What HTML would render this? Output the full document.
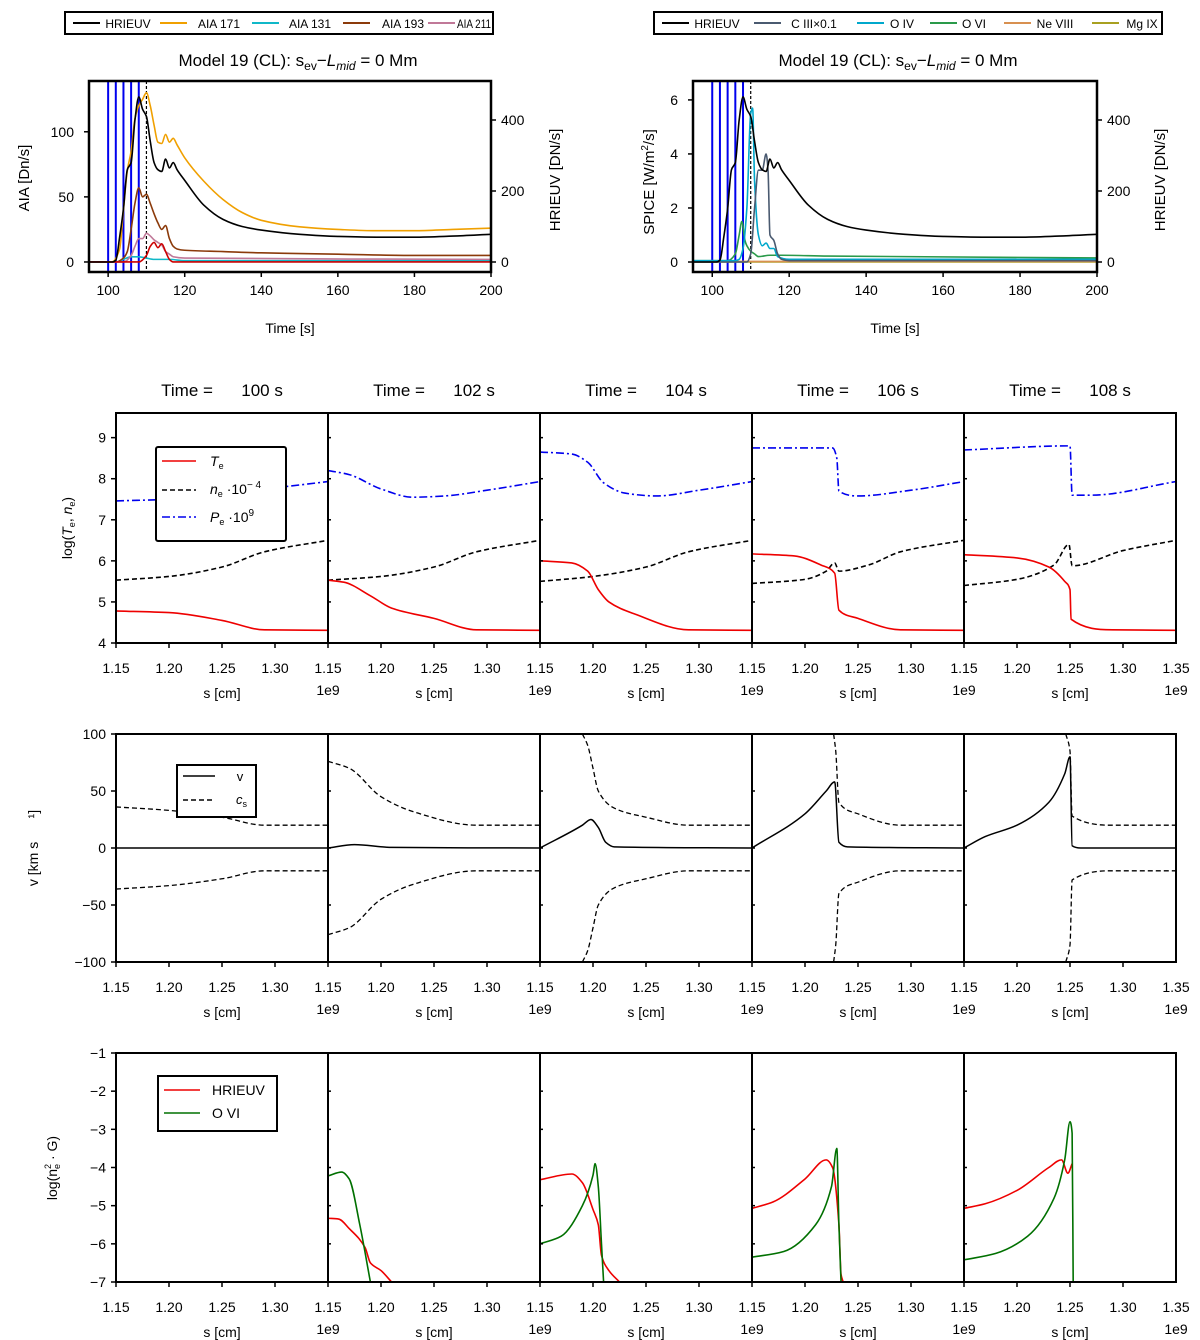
<!DOCTYPE html>
<html><head><meta charset="utf-8">
<style>
html,body{margin:0;padding:0;background:#fff;}
svg{display:block;font-family:"Liberation Sans","DejaVu Sans",sans-serif;}
</style></head>
<body>
<svg id="fig" width="1200" height="1340" viewBox="0 0 1200 1340" xmlns="http://www.w3.org/2000/svg"></svg>
<script>
// ---------- Top-left light curves (time in s) ----------
const hriT = [95,101,102,103,104,105,106,107,108,109,110,111,112,113,114,115,116,117,118,120,125,130,135,140,150,160,170,180,190,200];
const hriV = [0,0,5,70,150,260,280,400,465,430,410,340,280,260,255,290,265,280,260,230,160,120,100,90,78,72,70,70,73,78];
const a171T = [95,101,103,104,105,106,107,108,109,110,111,112,113,114,115,116,117,118,120,125,130,135,140,150,160,170,180,190,200];
const a171V = [0,0,10,40,70,85,110,120,125,130,120,105,92,91,98,92,95,90,80,62,48,38,32,27,25,24,24,25,26];
const a131T = [95,102,104,106,108,110,112,114,116,120,200];
const a131V = [0,0,2,4,4,3,2,2,2,1,1];
const a193T = [95,102,104,105,106,107,108,109,110,111,112,113,114,115,116,117,118,120,130,140,160,180,200];
const a193V = [0,0,3,8,25,45,57,50,52,45,37,30,25,28,18,12,10,9,8,7,6,5,5];
const a211T = [95,104,106,107,108,109,110,111,112,113,114,115,116,117,120,200];
const a211V = [0,0,5,12,18,18,22,20,17,15,13,8,6,4,3,2];
const a94T = [95,108,110,111,112,113,114,115,116,117,200];
const a94V = [0,0,5,12,15,11,14,8,2,0,0];
// ---------- Top-right SPICE curves ----------
const c3T = [95,109,110,111,112,113,114,114.5,115,116,117,118,120,200];
const c3V = [0,0,0.3,2,3.4,3.4,4.0,3.4,1,0.8,0.3,0.1,0.05,0.05];
const o4T = [95,106,107,108,109,110,110.5,111,112,113,114,115,116,117,120,200];
const o4V = [0.05,0.05,0.1,0.5,2,5.5,5.7,3,1,0.6,0.7,0.5,0.5,0.2,0.1,0.1];
const o6T = [95,104,106,107,107.7,108.5,109,110,111,112,115,118,130,200];
const o6V = [0.05,0.05,0.3,1,1.5,0.8,0.6,0.4,0.3,0.2,0.25,0.25,0.22,0.15];
const ne8T = [95,200]; const ne8V = [0.02,0.02];
const mg9T = [95,200]; const mg9V = [0,0];
const snapTimes = [100,102,104,106,108];
const markTime = 110;
const xTicksTop = [100,120,140,160,180,200];
const aiaTicks = [0,50,100];
const spiceTicks = [0,2,4,6];
const hriTicks = [0,200,400];
// ---------- Row 1: log Te, ne, Pe ----------
const panelTimes = [100,102,104,106,108];
const teS = [[1.15,1.20,1.25,1.29,1.35],[1.15,1.165,1.19,1.21,1.25,1.29,1.35],[1.15,1.18,1.195,1.205,1.215,1.24,1.29,1.35],[1.15,1.19,1.215,1.228,1.232,1.25,1.29,1.35],[1.15,1.2,1.23,1.245,1.25,1.251,1.29,1.35]];
const teV = [[4.78,4.74,4.55,4.32,4.31],[5.53,5.48,5.15,4.85,4.6,4.32,4.31],[6.0,5.95,5.75,5.3,5.0,4.7,4.32,4.31],[6.17,6.12,5.9,5.7,4.8,4.6,4.32,4.31],[6.15,6.07,5.85,5.5,5.3,4.58,4.32,4.31]];
const neS = [[1.15,1.2,1.25,1.29,1.35],[1.15,1.2,1.25,1.29,1.35],[1.15,1.2,1.25,1.29,1.35],[1.15,1.2,1.22,1.228,1.232,1.26,1.29,1.35],[1.15,1.2,1.235,1.249,1.252,1.3,1.35]];
const neV = [[5.53,5.62,5.85,6.22,6.5],[5.53,5.62,5.85,6.22,6.5],[5.5,5.62,5.85,6.22,6.5],[5.45,5.55,5.75,5.95,5.75,5.9,6.22,6.5],[5.4,5.55,5.9,6.4,5.88,6.25,6.5]];
const peS = [[1.15,1.2,1.25,1.3,1.35],[1.15,1.17,1.2,1.23,1.26,1.3,1.35],[1.15,1.18,1.195,1.21,1.23,1.26,1.3,1.35],[1.15,1.226,1.23,1.232,1.25,1.3,1.35],[1.15,1.25,1.252,1.27,1.35]];
const peV = [[7.46,7.5,7.65,7.78,7.93],[8.2,8.1,7.75,7.55,7.58,7.72,7.93],[8.65,8.6,8.4,7.9,7.65,7.58,7.72,7.93],[8.75,8.75,8.5,7.7,7.58,7.72,7.93],[8.7,8.8,7.6,7.6,7.93]];
// ---------- Row 2: v and cs ----------
const vS = [[1.15,1.35],[1.15,1.175,1.21,1.35],[1.15,1.19,1.198,1.205,1.212,1.22,1.35],[1.15,1.2,1.22,1.228,1.232,1.24,1.35],[1.15,1.17,1.2,1.23,1.245,1.25,1.252,1.26,1.35]];
const vV = [[0,0],[0,3,0.5,0],[0,20,25,18,5,1,0],[0,30,50,58,5,1,0],[0,10,20,40,65,80,2,0,0]];
const csS = [[1.15,1.2,1.25,1.29,1.35],[1.15,1.17,1.2,1.23,1.29,1.35],[1.19,1.195,1.2,1.205,1.22,1.25,1.29,1.35],[1.227,1.229,1.232,1.25,1.29,1.35],[1.246,1.25,1.252,1.29,1.35]];
const csV = [[36,33,27,20,20],[76,70,45,32,20,20],[100,90,70,50,35,27,20,20],[100,85,40,30,20,20],[100,85,28,20,20]];
// ---------- Row 3: log(ne^2 G) ----------
const hS = [[],[1.15,1.16,1.17,1.185,1.19,1.2,1.21],[1.15,1.18,1.19,1.2,1.205,1.208,1.215,1.225],[1.15,1.17,1.2,1.22,1.226,1.232,1.234,1.236],[1.15,1.17,1.2,1.23,1.242,1.248,1.252]];
const hV = [[],[-5.33,-5.35,-5.6,-6.1,-6.5,-6.7,-7.0],[-4.32,-4.17,-4.4,-5.1,-5.5,-6.3,-6.7,-7],[-5.07,-4.9,-4.3,-3.8,-4.0,-5.5,-6.8,-7],[-5.07,-4.95,-4.6,-4.0,-3.8,-4.15,-3.9]];
const oS = [[],[1.15,1.163,1.17,1.18,1.19],[1.15,1.17,1.19,1.2,1.202,1.205,1.208,1.21],[1.15,1.18,1.21,1.225,1.23,1.232,1.234],[1.15,1.18,1.21,1.235,1.245,1.25,1.252,1.253]];
const oV = [[],[-4.22,-4.12,-4.3,-5.5,-7.0],[-6.0,-5.8,-5.0,-4.2,-3.9,-4.5,-6.0,-7],[-6.35,-6.2,-5.5,-4.5,-3.5,-5.5,-7],[-6.42,-6.25,-5.8,-4.8,-3.8,-2.8,-3.1,-7]];
const sTicks = [1.15,1.20,1.25,1.30];
const r1Ticks = [4,5,6,7,8,9];
const r2Ticks = [-100,-50,0,50,100];
const r3Ticks = [-7,-6,-5,-4,-3,-2,-1];

const NS = "http://www.w3.org/2000/svg";
const svg = document.getElementById('fig');
function el(tag, attrs, parent, text){
  const e = document.createElementNS(NS, tag);
  for (const k in attrs) e.setAttribute(k, attrs[k]);
  if (text !== undefined) e.textContent = text;
  (parent || svg).appendChild(e);
  return e;
}
function txt(x,y,s,size,anchor,parent,rot){
  const a = {x:x,y:y,'font-size':size,'text-anchor':anchor||'middle',fill:'#000'};
  if (rot) a.transform = 'rotate('+rot+' '+x+' '+y+')';
  return el('text',a,parent,s);
}
// monotone cubic path (Fritsch-Carlson)
function monoPath(X,Y){
  const n=X.length; if(n<2) return '';
  const d=[],m=[];
  for(let i=0;i<n-1;i++){ const dx=X[i+1]-X[i]; d.push(dx===0?0:(Y[i+1]-Y[i])/dx); }
  m[0]=d[0]; m[n-1]=d[n-2];
  for(let i=1;i<n-1;i++){ if(d[i-1]*d[i]<=0){m[i]=0;} else { const w1=2*(X[i+1]-X[i])+(X[i]-X[i-1]), w2=(X[i+1]-X[i])+2*(X[i]-X[i-1]); m[i]=(w1+w2)/(w1/d[i-1]+w2/d[i]); } }
  let p='M'+X[0].toFixed(2)+','+Y[0].toFixed(2);
  for(let i=0;i<n-1;i++){
    const h=X[i+1]-X[i];
    if(h<=0.01){ p+='L'+X[i+1].toFixed(2)+','+Y[i+1].toFixed(2); continue; }
    const c1x=X[i]+h/3, c1y=Y[i]+m[i]*h/3, c2x=X[i+1]-h/3, c2y=Y[i+1]-m[i+1]*h/3;
    p+='C'+c1x.toFixed(2)+','+c1y.toFixed(2)+' '+c2x.toFixed(2)+','+c2y.toFixed(2)+' '+X[i+1].toFixed(2)+','+Y[i+1].toFixed(2);
  }
  return p;
}
function line(xs, ys, sx, sy, color, w, dash, parent, name){
  const X=xs.map(sx), Y=ys.map(sy);
  const a={d:monoPath(X,Y),fill:'none',stroke:color,'stroke-width':w,'stroke-linejoin':'round'};
  if (dash) a['stroke-dasharray']=dash;
  const p = el('path',a,parent);
  
  
  return p;
}

// ===== Top plots =====
function topPlot(L, R, T, B, yMin, yMax, leftTicks, series, name){
  const g = el('g',{});
  
  
  const sx = t => L + (t-95)/(200-95)*(R-L);
  const sy = v => B - (v-yMin)/(yMax-yMin)*(B-T);
  const hy = v => 262 - v*(142/400);
  const cp = 'clip-'+name;
  const defs = el('defs',{},g); const c = el('clipPath',{id:cp},defs); el('rect',{x:L,y:T,width:R-L,height:B-T},c);
  const inner = el('g',{'clip-path':'url(#'+cp+')'},g);
  snapTimes.forEach(t=>{ const l=el('line',{x1:sx(t),x2:sx(t),y1:T,y2:B,stroke:'#0000ee','stroke-width':2},inner);
      });
  const m = el('line',{x1:sx(markTime),x2:sx(markTime),y1:T,y2:B,stroke:'#000','stroke-width':1.2,'stroke-dasharray':'3,2'},inner);
   
  series.forEach(s=>{ line(s.t, s.v, sx, s.hri?hy:sy, s.c, 1.6, null, inner, s.n); });
  el('rect',{x:L,y:T,width:R-L,height:B-T,fill:'none',stroke:'#000','stroke-width':2.5},g);
  xTicksTop.forEach(t=>{ el('line',{x1:sx(t),x2:sx(t),y1:B,y2:B+5,stroke:'#000','stroke-width':1.5},g); txt(sx(t),B+23,String(t),14,'middle',g); });
  leftTicks.forEach(v=>{ el('line',{x1:L-5,x2:L,y1:sy(v),y2:sy(v),stroke:'#000','stroke-width':1.5},g); txt(L-15,sy(v)+5,String(v),14,'end',g); });
  hriTicks.forEach(v=>{ el('line',{x1:R,x2:R+5,y1:hy(v),y2:hy(v),stroke:'#000','stroke-width':1.5},g); txt(R+10,hy(v)+5,String(v),14,'start',g); });
  txt((L+R)/2, 333, 'Time [s]', 14, 'middle', g);
  return g;
}
topPlot(89,491,81,272,-7.7,139,aiaTicks,[
  {t:a171T,v:a171V,c:'#f0a000',n:'aia171-line'},
  {t:a131T,v:a131V,c:'#10b8c8',n:'aia131-line'},
  {t:a193T,v:a193V,c:'#8b3a0a',n:'aia193-line'},
  {t:a211T,v:a211V,c:'#c07898',n:'aia211-line'},
  {t:a94T,v:a94V,c:'#cc0000',n:'aia94-line'},
  {t:hriT,v:hriV,c:'#000',n:'hrieuv-line',hri:true}
],'aia-plot');
topPlot(693,1097,81,272,-0.37,6.7,spiceTicks,[
  {t:mg9T,v:mg9V,c:'#a8a020',n:'mg9-line'},
  {t:ne8T,v:ne8V,c:'#d89050',n:'ne8-line'},
  {t:o6T,v:o6V,c:'#2a9a4a',n:'o6-line'},
  {t:o4T,v:o4V,c:'#00a8cc',n:'o4-line'},
  {t:c3T,v:c3V,c:'#4a5a70',n:'c3-line'},
  {t:hriT,v:hriV,c:'#000',n:'hrieuv-line',hri:true}
],'spice-plot');
txt(29,178,'AIA [Dn/s]',15,'middle',null,-90);
txt(560,180,'HRIEUV [DN/s]',15,'middle',null,-90);
(function(){
  const t=el('text',{x:654,y:182,'font-size':15,'text-anchor':'middle',transform:'rotate(-90 654 182)'});
   
  el('tspan',{},t,'SPICE [W/m'); el('tspan',{'font-size':10,dy:-6},t,'2'); el('tspan',{dy:6},t,'/s]');
})();
txt(1165,180,'HRIEUV [DN/s]',15,'middle',null,-90);
// titles
[298,898].forEach(cx=>{
  const t = el('text',{x:cx,y:66,'font-size':17,'text-anchor':'middle'});
   
  el('tspan',{},t,'Model 19 (CL): s');
  el('tspan',{'font-size':12,dy:4},t,'ev');
  el('tspan',{dy:-4},t,'\u2212');
  el('tspan',{'font-style':'italic'},t,'L');
  el('tspan',{'font-size':12,dy:4,'font-style':'italic'},t,'mid');
  el('tspan',{dy:-4},t,' = 0 Mm');
});
// top legends
function topLegend(x,y,w,items,name){
  const g = el('g',{});  
  el('rect',{x:x,y:y,width:w,height:22,fill:'#fff',stroke:'#000','stroke-width':2},g);
  items.forEach(it=>{
    const e = el('g',{},g);  
    el('line',{x1:it.x,x2:it.x+27,y1:y+11,y2:y+11,stroke:it.c,'stroke-width':2},e);
    const t = txt(it.tx,y+16,it.s,12,'middle',e);
    if (it.tl) { t.setAttribute('textLength', it.tl); t.setAttribute('lengthAdjust','spacingAndGlyphs'); }
  });
}
topLegend(65,12,428,[{x:73,c:'#000',s:'HRIEUV',tx:128},{x:160,c:'#f0a000',s:'AIA 171',tx:219},{x:252,c:'#10b8c8',s:'AIA 131',tx:310},{x:343,c:'#8b3a0a',s:'AIA 193',tx:403},{x:428,c:'#c07898',s:'AIA 211',tx:474,tl:34}],'aia-legend');
topLegend(654,12,508,[{x:662,c:'#000',s:'HRIEUV',tx:717},{x:754,c:'#4a5a70',s:'C III×0.1',tx:814},{x:857,c:'#00a8cc',s:'O IV',tx:902},{x:930,c:'#2a9a4a',s:'O VI',tx:974},{x:1004,c:'#d89050',s:'Ne VIII',tx:1055},{x:1092,c:'#a8a020',s:'Mg IX',tx:1142}],'spice-legend');

// ===== Snapshot grid =====
const PX = [116,328,540,752,964];
const PW = 212;
function row(T,B,yMin,yMax,yTicks,drawFn,rowName){
  const sy = v => B - (v-yMin)/(yMax-yMin)*(B-T);
  PX.forEach((L,i)=>{
    const g = el('g',{});  
    const sx = s => L + (s-1.15)/0.2*PW;
    const cp='cp-'+rowName+i; const defs=el('defs',{},g); const c=el('clipPath',{id:cp},defs); el('rect',{x:L,y:T,width:PW,height:B-T},c);
    const inner = el('g',{'clip-path':'url(#'+cp+')'},g);
    drawFn(i,sx,sy,inner);
    el('rect',{x:L,y:T,width:PW,height:B-T,fill:'none',stroke:'#000','stroke-width':2},g);
    sTicks.forEach(s=>{ el('line',{x1:sx(s),x2:sx(s),y1:B,y2:B+5,stroke:'#000','stroke-width':1.5},g); txt(sx(s),B+30,s.toFixed(2),14,'middle',g); });
    yTicks.forEach(v=>{ el('line',{x1:L-(i?0:5),x2:L+(i?3:0),y1:sy(v),y2:sy(v),stroke:'#000','stroke-width':1.5},g); });
    txt(L+106,B+55,'s [cm]',14,'middle',g);
    txt(L+PW,B+52,'1e9',14,'middle',g);
  });
  txt(PX[4]+PW,B+30,'1.35',14,'middle');
  yTicks.forEach(v=> txt(106,sy(v)+5,(v<0?'\u2212'+Math.abs(v):String(v)),14,'end'));
}
PX.forEach((L,i)=>{ const t=txt(L+106,396,'Time =      '+panelTimes[i]+' s',17,'middle'); t.style.whiteSpace='pre';
    });

row(413,643,4,9.6,r1Ticks,(i,sx,sy,g)=>{
  line(peS[i],peV[i],sx,sy,'#0000ee',1.6,'8,3,2,3',g,'pe-line');
  line(neS[i],neV[i],sx,sy,'#000',1.6,'5,3',g,'ne-line');
  line(teS[i],teV[i],sx,sy,'#ee0000',1.6,null,g,'te-line');
},'thermo');
row(734,962,-100,100,r2Ticks,(i,sx,sy,g)=>{
  line(csS[i],csV[i],sx,sy,'#000',1.3,'5,3',g,'cs-upper-line');
  line(csS[i],csV[i].map(v=>-v),sx,sy,'#000',1.3,'5,3',g,'cs-lower-line');
  line(vS[i],vV[i],sx,sy,'#000',1.5,null,g,'v-line');
},'velocity');
row(1053,1282,-7,-1,r3Ticks,(i,sx,sy,g)=>{
  if (hS[i].length) line(hS[i],hV[i],sx,sy,'#ee0000',1.6,null,g,'hrieuv-contrib-line');
  if (oS[i].length) line(oS[i],oV[i],sx,sy,'#007000',1.6,null,g,'ovi-contrib-line');
},'contrib');

// y labels
(function(){
  const t=el('text',{x:72,y:528,'font-size':14,'text-anchor':'middle',transform:'rotate(-90 72 528)'});
   
  el('tspan',{},t,'log('); el('tspan',{'font-style':'italic'},t,'T'); el('tspan',{'font-size':9,dy:3},t,'e'); el('tspan',{dy:-3},t,',  '); el('tspan',{'font-style':'italic'},t,'n'); el('tspan',{'font-size':9,dy:3},t,'e'); el('tspan',{dy:-3},t,')');
  const t2=el('text',{x:38,y:848,'font-size':14,'text-anchor':'middle',transform:'rotate(-90 38 848)'},null,'v [km s      ¹]');
    t2.style.whiteSpace='pre';
  const t3=el('text',{x:57,y:1168,'font-size':14,'text-anchor':'middle',transform:'rotate(-90 57 1168)'});
   
  el('tspan',{},t3,'log(n'); el('tspan',{'font-size':9,dy:-6},t3,'2'); el('tspan',{'font-size':9,dx:-5,dy:9},t3,'e'); el('tspan',{dy:-3},t3,'  ·  G)');
})();

// panel legends
(function(){
  let g=el('g',{});  
  el('rect',{x:156,y:447,width:130,height:94,fill:'#fff',stroke:'#000','stroke-width':2,rx:2},g);
  el('line',{x1:162,x2:196,y1:461,y2:461,stroke:'#ee0000','stroke-width':1.6},g);
  el('line',{x1:162,x2:196,y1:490,y2:490,stroke:'#000','stroke-width':1.6,'stroke-dasharray':'5,3'},g);
  el('line',{x1:162,x2:196,y1:517,y2:517,stroke:'#0000ee','stroke-width':1.6,'stroke-dasharray':'8,3,2,3'},g);
  let t=el('text',{x:210,y:466,'font-size':14},g); el('tspan',{'font-style':'italic'},t,'T'); el('tspan',{'font-size':9,dy:3},t,'e');
  t=el('text',{x:210,y:494,'font-size':14},g); el('tspan',{'font-style':'italic'},t,'n'); el('tspan',{'font-size':9,dy:3},t,'e'); el('tspan',{dy:-3},t,' ·10'); el('tspan',{'font-size':10,dy:-6},t,'− 4');
  t=el('text',{x:210,y:522,'font-size':14},g); el('tspan',{'font-style':'italic'},t,'P'); el('tspan',{'font-size':9,dy:3},t,'e'); el('tspan',{dy:-3},t,' ·10'); el('tspan',{'font-size':10,dy:-6},t,'9');
  g=el('g',{});  
  el('rect',{x:177,y:765,width:79,height:52,fill:'#fff',stroke:'#000','stroke-width':2},g);
  el('line',{x1:183,x2:215,y1:776,y2:776,stroke:'#000','stroke-width':1.5},g);
  el('line',{x1:183,x2:215,y1:800,y2:800,stroke:'#000','stroke-width':1.5,'stroke-dasharray':'5,3'},g);
  txt(240,781,'v',13,'middle',g);
  t=el('text',{x:236,y:804,'font-size':13},g); el('tspan',{'font-style':'italic'},t,'c'); el('tspan',{'font-size':9,dy:3},t,'s');
  g=el('g',{});  
  el('rect',{x:158,y:1076,width:119,height:55,fill:'#fff',stroke:'#000','stroke-width':2},g);
  el('line',{x1:164,x2:200,y1:1090,y2:1090,stroke:'#ee0000','stroke-width':1.6},g);
  el('line',{x1:164,x2:200,y1:1113,y2:1113,stroke:'#007000','stroke-width':1.6},g);
  txt(212,1095,'HRIEUV',14,'start',g); txt(212,1118,'O VI',14,'start',g);
})();
</script>
</body></html>
